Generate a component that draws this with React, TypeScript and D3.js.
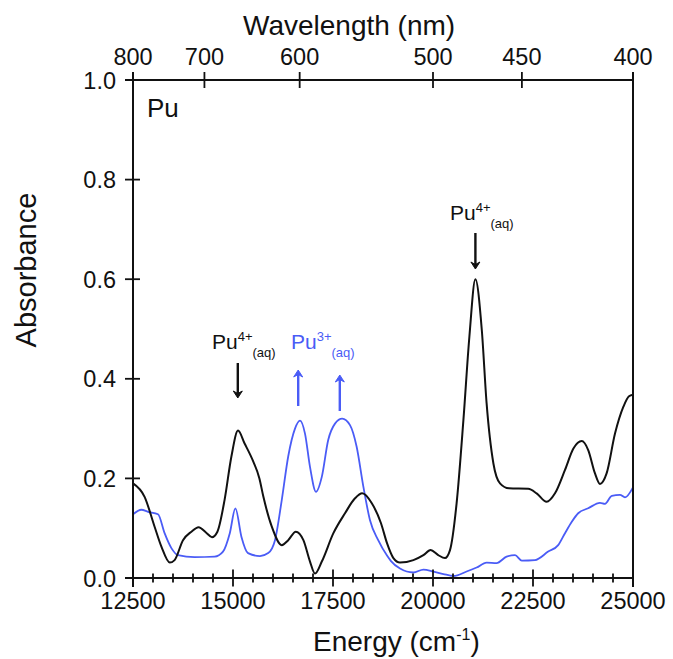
import React, { useEffect } from "react";
import * as d3 from "d3";

const energyBlack = [12500, 12790, 13040, 13210, 13420, 13540, 13750, 13960, 14140, 14330, 14475, 14610, 14790, 14960, 15125, 15290, 15500, 15660, 15760, 15970, 16220, 16380, 16570, 16760, 16925, 17050, 17220, 17510, 17800, 18050, 18230, 18470, 18700, 18850, 19010, 19175, 19510, 19760, 19940, 20130, 20300, 20425, 20590, 20760, 20910, 21060, 21220, 21340, 21510, 21675, 21900, 22380, 22590, 22840, 23050, 23300, 23510, 23720, 23880, 24050, 24175, 24340, 24550, 24760, 24900, 25000];
const absBlack = [0.19, 0.163, 0.103, 0.063, 0.031, 0.036, 0.076, 0.093, 0.102, 0.091, 0.082, 0.093, 0.157, 0.244, 0.296, 0.27, 0.235, 0.2, 0.163, 0.103, 0.066, 0.076, 0.093, 0.076, 0.033, 0.009, 0.033, 0.09, 0.13, 0.16, 0.17, 0.15, 0.11, 0.07, 0.04, 0.031, 0.036, 0.046, 0.056, 0.046, 0.04, 0.056, 0.15, 0.317, 0.485, 0.6, 0.498, 0.351, 0.23, 0.19, 0.18, 0.179, 0.17, 0.153, 0.17, 0.217, 0.26, 0.275, 0.257, 0.21, 0.189, 0.21, 0.29, 0.344, 0.365, 0.368];

const energyBlue = [12500, 12710, 12875, 13125, 13290, 13460, 13625, 14040, 14540, 14750, 14920, 15060, 15210, 15375, 15675, 15880, 16050, 16220, 16380, 16550, 16675, 16800, 16925, 17075, 17220, 17380, 17550, 17730, 17925, 18090, 18260, 18425, 18630, 18850, 18950, 19175, 19510, 19760, 20010, 20260, 20510, 20840, 21090, 21340, 21590, 21840, 22050, 22220, 22550, 22880, 23130, 23300, 23470, 23630, 23880, 24175, 24300, 24470, 24675, 24800, 25000];
const absBlue = [0.128, 0.137, 0.133, 0.128, 0.09, 0.06, 0.046, 0.042, 0.043, 0.053, 0.09, 0.14, 0.083, 0.05, 0.044, 0.05, 0.076, 0.157, 0.244, 0.3, 0.316, 0.29, 0.223, 0.173, 0.203, 0.277, 0.31, 0.32, 0.307, 0.264, 0.183, 0.116, 0.076, 0.045, 0.034, 0.019, 0.011, 0.017, 0.013, 0.008, 0.004, 0.013, 0.021, 0.031, 0.03, 0.043, 0.046, 0.035, 0.036, 0.053, 0.066, 0.09, 0.113, 0.13, 0.14, 0.151, 0.149, 0.165, 0.167, 0.162, 0.182];

const energyMajorTicks = [12500, 15000, 17500, 20000, 22500, 25000];
const energyMinorTicks = d3.range(12500, 25001, 500);
const absTicks = [0, 0.2, 0.4, 0.6, 0.8, 1.0];
const wavelengthTicks = [800, 700, 600, 500, 450, 400];

const BLACK = "#111111";
const BLUE = "#4a5cf6";
const FONT = "'Liberation Sans', Arial, Helvetica, sans-serif";

export default function App() {
  useEffect(() => {
    document.body.style.margin = "0";
  }, []);

  const W = 673, H = 659;
  const left = 133, right = 633, top = 80, bottom = 578;
  const x = d3.scaleLinear().domain([12500, 25000]).range([left, right]);
  const y = d3.scaleLinear().domain([0, 1]).range([bottom, top]);

  const line = d3
    .line<[number, number]>()
    .x((d) => x(d[0]))
    .y((d) => y(d[1]))
    .curve(d3.curveMonotoneX);

  const blackPts = energyBlack.map((e, i) => [e, absBlack[i]] as [number, number]);
  const bluePts = energyBlue.map((e, i) => [e, absBlue[i]] as [number, number]);

  const arrow = (cx: number, y1: number, y2: number, color: string, key: string) => {
    const dir = y2 > y1 ? 1 : -1;
    const hl = 7, hw = 4.5;
    return (
      <g key={key}>
        <line x1={cx} y1={y1} x2={cx} y2={y2 - dir * 3} stroke={color} strokeWidth={2.4} />
        <path
          d={`M${cx - hw},${y2 - dir * hl} L${cx},${y2} L${cx + hw},${y2 - dir * hl} L${cx},${y2 - dir * (hl - 2.5)} Z`}
          fill={color}
          stroke={color}
          strokeWidth={1}
        />
      </g>
    );
  };

  const label = (xx: number, yy: number, sup: string, color: string, key: string) => (
    <text key={key} x={xx} y={yy} fill={color} fontFamily={FONT} fontSize={21}>
      Pu
      <tspan fontSize={13} dy={-8}>{sup}</tspan>
      <tspan fontSize={13} dy={15.5}>(aq)</tspan>
    </text>
  );

  return (
    <svg width={W} height={H} style={{ display: "block", background: "#fff" }}>
      <path d={line(bluePts) || ""} fill="none" stroke={BLUE} strokeWidth={1.8} />
      <path d={line(blackPts) || ""} fill="none" stroke={BLACK} strokeWidth={2} />

      <g stroke={BLACK} strokeWidth={2} fill="none">
        <line x1={left} y1={top - 8} x2={left} y2={bottom + 9} />
        <line x1={right} y1={top - 8} x2={right} y2={bottom + 9} />
        <line x1={left - 8} y1={top} x2={right} y2={top} />
        <line x1={left - 8} y1={bottom} x2={right} y2={bottom} />
      </g>

      <g stroke={BLACK} strokeWidth={1.8}>
        {energyMinorTicks.map((t) => {
          const major = energyMajorTicks.includes(t);
          const l = major ? 8.5 : 4.5;
          return <line key={`mt${t}`} x1={x(t)} x2={x(t)} y1={bottom - l} y2={bottom + l} />;
        })}
        {absTicks.map((t) => (
          <line key={`yt${t}`} x1={left - 8} x2={left + 7} y1={y(t)} y2={y(t)} />
        ))}
        {wavelengthTicks.map((w) => (
          <line key={`wt${w}`} x1={x(1e7 / w)} x2={x(1e7 / w)} y1={top - 8} y2={top + 8} />
        ))}
      </g>

      <g fontFamily={FONT} fontSize={23.5} fill={BLACK}>
        {energyMajorTicks.map((t) => (
          <text key={`el${t}`} x={x(t)} y={609} textAnchor="middle">
            {t}
          </text>
        ))}
        {absTicks.map((t) => (
          <text key={`al${t}`} x={116} y={y(t) + 8.5} textAnchor="end">
            {t.toFixed(1)}
          </text>
        ))}
        {wavelengthTicks.map((w) => (
          <text key={`wl${w}`} x={x(1e7 / w)} y={65} textAnchor="middle">
            {w}
          </text>
        ))}
      </g>

      <text x={243} y={35} fontFamily={FONT} fontSize={28} fill={BLACK}>
        Wavelength (nm)
      </text>
      <text x={313} y={651} fontFamily={FONT} fontSize={28} fill={BLACK}>
        Energy (cm
        <tspan fontSize={16} dy={-11}>-1</tspan>
        <tspan dy={11}>)</tspan>
      </text>
      <text
        transform={`translate(36, 270) rotate(-90)`}
        textAnchor="middle"
        fontFamily={FONT}
        fontSize={29}
        fill={BLACK}
      >
        Absorbance
      </text>

      <text x={147} y={117} fontFamily={FONT} fontSize={26} fill={BLACK}>
        Pu
      </text>

      {label(212, 349, "4+", BLACK, "l1")}
      {label(291, 349, "3+", BLUE, "l2")}
      {label(450, 220, "4+", BLACK, "l3")}
      {arrow(x(15120), 363, 398, BLACK, "a1")}
      {arrow(x(16630), 406, 370, BLUE, "a2")}
      {arrow(x(17670), 411, 375, BLUE, "a3")}
      {arrow(x(21060), 233, 269, BLACK, "a4")}
    </svg>
  );
}
